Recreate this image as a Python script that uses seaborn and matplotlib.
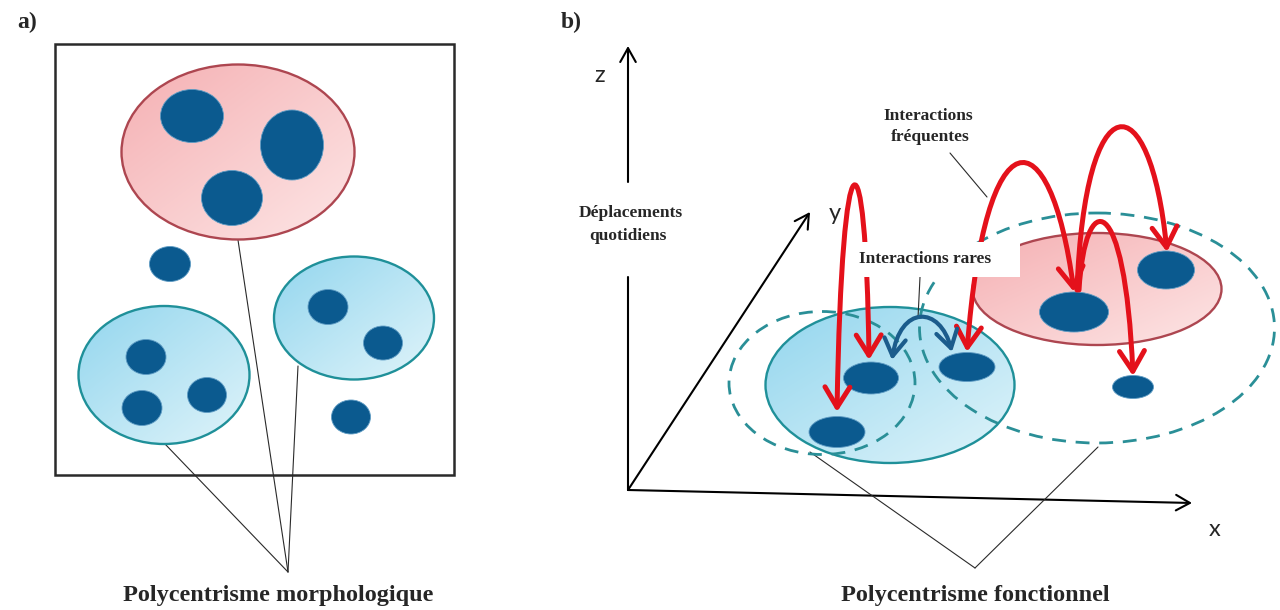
import numpy as np
import matplotlib
matplotlib.use("Agg")
import matplotlib.pyplot as plt
import seaborn as sns
from matplotlib.patches import Ellipse, Rectangle, FancyArrowPatch
from matplotlib.path import Path

# ---- panel a: morphological polycentrism ----
A_CLUSTER_X = [238, 164, 354]
A_CLUSTER_Y = [152, 375, 318]
A_CLUSTER_W = [233, 171, 160]
A_CLUSTER_H = [175, 138, 123]
A_CLUSTER_KIND = ["pink", "cyan", "cyan"]

A_NODE_X = [192, 292, 232, 170, 146, 142, 207, 328, 383, 351]
A_NODE_Y = [116, 145, 198, 264, 357, 408, 395, 307, 343, 417]
A_NODE_W = [63, 63, 61, 41, 40, 40, 39, 40, 39, 39]
A_NODE_H = [53, 70, 55, 35, 35, 35, 35, 35, 34, 34]

A_LEADER_START = [(238, 240), (298, 366), (165, 444)]
A_LEADER_END = (288, 572)

# ---- panel b: functional polycentrism ----
B_CLUSTER_X = [890, 1097]
B_CLUSTER_Y = [385, 289]
B_CLUSTER_W = [249, 249]
B_CLUSTER_H = [156, 112]
B_CLUSTER_KIND = ["cyan", "pink"]

B_AREA_X = [822, 1097]
B_AREA_Y = [383, 328]
B_AREA_W = [186, 355]
B_AREA_H = [143, 230]

B_NODE_X = [871, 967, 837, 1074, 1166, 1133]
B_NODE_Y = [378, 367, 432, 312, 270, 387]
B_NODE_W = [55, 56, 56, 69, 57, 41]
B_NODE_H = [32, 29, 31, 40, 38, 23]

# frequent interactions (red), control points of cubic curves
B_FREQ = [
    [(869, 360), (866, 120), (842, 120), (837, 412)],
    [(967, 352), (985, 112), (1050, 112), (1074, 292)],
    [(1077, 290), (1085, 80), (1150, 80), (1167, 252)],
    [(1079, 290), (1085, 188), (1125, 188), (1133, 376)],
]
B_FREQ_HEADS = ["<->", "<->", "->", "->"]
# rare interaction (blue)
B_RARE = [(892, 360), (900, 305), (940, 305), (952, 352)]

B_LEADER_START = [(810, 452), (1098, 447)]
B_LEADER_END = (975, 568)

NODE = "#0b5a8f"
RED = "#e4111b"
ARC_BLUE = "#1b5c8c"
DASH = "#2a8f97"
STYLES = {
    "pink": ("#f5b0b3", "#fde6e6", "#ad4650"),
    "cyan": ("#93d6ee", "#e0f4fa", "#1f9099"),
}

sns.set_theme(style="white")
SERIF = ["Liberation Serif", "DejaVu Serif"]
SANS = ["Lato", "DejaVu Sans"]


def blob(ax, x, y, w, h, kind, z=2):
    c1, c2, edge = STYLES[kind]
    e = Ellipse((x, y), w, h, facecolor="none", edgecolor=edge, lw=1.7, zorder=z + 0.1)
    ax.add_patch(e)
    cmap = sns.blend_palette([c1, c2], as_cmap=True)
    gx, gy = np.meshgrid(np.linspace(0, 1, 200), np.linspace(0, 1, 200))
    im = ax.imshow((gx + gy) / 2, cmap=cmap, extent=[x - w / 2, x + w / 2, y + h / 2, y - h / 2],
                   aspect="auto", zorder=z, interpolation="bilinear")
    im.set_clip_path(e)


def nodes(ax, xs, ys, ws, hs):
    for x, y, w, h in zip(xs, ys, ws, hs):
        ax.add_patch(Ellipse((x, y), w, h, facecolor=NODE, edgecolor="#5f9cc4", lw=0.6, zorder=4))


def curve(ax, pts, style, color, lw, scale):
    path = Path(pts, [Path.MOVETO, Path.CURVE4, Path.CURVE4, Path.CURVE4])
    ax.add_patch(FancyArrowPatch(path=path, arrowstyle=style + ", head_length=0.52, head_width=0.32",
                                 mutation_scale=scale, color=color, lw=lw, zorder=5))


def axis_arrow(ax, p0, p1):
    ax.add_patch(FancyArrowPatch(p0, p1, arrowstyle="->, head_length=0.5, head_width=0.28",
                                 mutation_scale=20, color="black", lw=1.5, zorder=1,
                                 shrinkA=0, shrinkB=0))


fig = plt.figure(figsize=(12.8, 6.1), dpi=100)
ax = fig.add_axes([0, 0, 1, 1])

# panel a
ax.add_patch(Rectangle((55, 44), 399, 431, facecolor="none", edgecolor="#2a2a2a", lw=1.8, zorder=1))
for x, y, w, h, k in zip(A_CLUSTER_X, A_CLUSTER_Y, A_CLUSTER_W, A_CLUSTER_H, A_CLUSTER_KIND):
    blob(ax, x, y, w, h, k)
nodes(ax, A_NODE_X, A_NODE_Y, A_NODE_W, A_NODE_H)
for s in A_LEADER_START:
    ax.plot([s[0], A_LEADER_END[0]], [s[1], A_LEADER_END[1]], color="#2a2a2a", lw=0.8, zorder=1.5)
ax.text(17, 22, "a)", fontsize=17, fontweight="bold", family=SERIF, va="center", ha="left")
ax.text(278, 596, "Polycentrisme morphologique", fontsize=17.5, fontweight="bold",
        family=SERIF, ha="center", va="center")

# panel b axes
origin = (628, 490)
axis_arrow(ax, origin, (1192, 503))
axis_arrow(ax, origin, (810, 212))
ax.plot([628, 628], [490, 277], color="black", lw=1.5, zorder=1)
axis_arrow(ax, (628, 182), (628, 46))
ax.text(600, 75, "z", fontsize=17, family=SANS, ha="center", va="center")
ax.text(835, 213, "y", fontsize=17, family=SANS, ha="center", va="center")
ax.text(1215, 530, "x", fontsize=17, family=SANS, ha="center", va="center")
ax.text(631, 213, "Déplacements", fontsize=12.5, fontweight="bold", family=SERIF, ha="center", va="center")
ax.text(628, 236, "quotidiens", fontsize=12.5, fontweight="bold", family=SERIF, ha="center", va="center")

for x, y, w, h, k in zip(B_CLUSTER_X, B_CLUSTER_Y, B_CLUSTER_W, B_CLUSTER_H, B_CLUSTER_KIND):
    blob(ax, x, y, w, h, k)
for x, y, w, h in zip(B_AREA_X, B_AREA_Y, B_AREA_W, B_AREA_H):
    ax.add_patch(Ellipse((x, y), w, h, facecolor="none", edgecolor=DASH, lw=2.0,
                         linestyle=(0, (5, 3.5)), zorder=3))
nodes(ax, B_NODE_X, B_NODE_Y, B_NODE_W, B_NODE_H)

for pts, st in zip(B_FREQ, B_FREQ_HEADS):
    curve(ax, pts, st, RED, 3.6, 28)
curve(ax, B_RARE, "<->", ARC_BLUE, 3.0, 24)

for s in B_LEADER_START:
    ax.plot([s[0], B_LEADER_END[0]], [s[1], B_LEADER_END[1]], color="#2a2a2a", lw=0.8, zorder=1.5)
ax.plot([950, 987], [153, 197], color="#2a2a2a", lw=0.8, zorder=1.5)
ax.plot([920, 918], [277, 318], color="#2a2a2a", lw=0.8, zorder=3.5)

ax.add_patch(Rectangle((850, 242), 170, 35, facecolor="white", edgecolor="none", zorder=6))
ax.text(925, 259, "Interactions rares", fontsize=12.5, fontweight="bold", family=SERIF,
        ha="center", va="center", zorder=7)
ax.text(928, 116, "Interactions", fontsize=12.5, fontweight="bold", family=SERIF, ha="center", va="center")
ax.text(930, 137, "fréquentes", fontsize=12.5, fontweight="bold", family=SERIF, ha="center", va="center")
ax.text(561, 22, "b)", fontsize=17, fontweight="bold", family=SERIF, va="center", ha="left")
ax.text(975, 596, "Polycentrisme fonctionnel", fontsize=17.5, fontweight="bold",
        family=SERIF, ha="center", va="center")

ax.set_xlim(0, 1280)
ax.set_ylim(610, 0)
ax.axis("off")
fig.savefig("out.png", dpi=100, facecolor="white")
